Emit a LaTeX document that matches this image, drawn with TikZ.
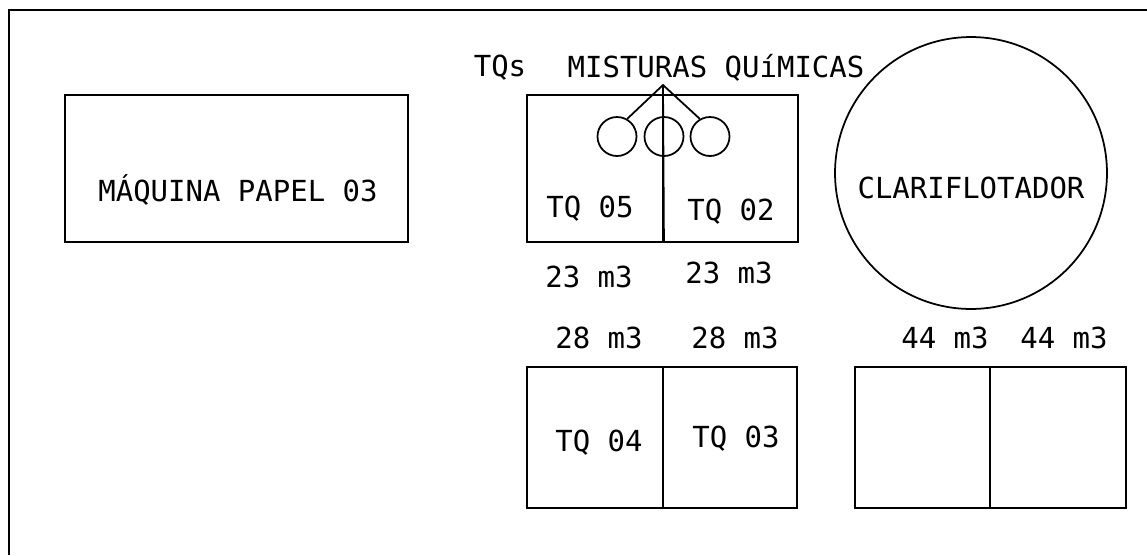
\documentclass[tikz,border=0pt]{standalone}
\usepackage{fontspec}
\setmonofont{DejaVu Sans Mono}
\usetikzlibrary{positioning}
\tikzset{
  tankbox/.style={
    rectangle, draw=black, line width=1.1pt,
    minimum width=#1, minimum height=2.94cm,
    inner sep=0pt
  },
  tankbox/.default=2.72cm,
  bigtank/.style={
    rectangle, draw=black, line width=1.1pt,
    minimum width=#1, minimum height=2.82cm,
    inner sep=0pt
  },
  bigtank/.default=2.72cm,
  mixcirc/.style={circle, draw=black, line width=1pt,
    minimum size=0.78cm, inner sep=0pt},
  clarcirc/.style={circle, draw=black, line width=1pt,
    minimum size=5.44cm, inner sep=0pt},
  plotlbl/.style={font=\fontsize{16.5}{18}\selectfont\ttfamily, inner sep=0pt},
  feedline/.style={line width=1pt, color=black},
}

\begin{document}
\begin{tikzpicture}[x=0.02cm, y=-0.02cm]
  \useasboundingbox (0,0) rectangle (1147,555);
  % frame
  \draw[line width=1.1pt] (9,555) -- (9,10) -- (1147,10);
  % paper machine
  \node[tankbox=6.86cm] at (236.5,168.5) (mp03) {};
  \node[plotlbl] at (238,190) (mp03lbl) {MÁQUINA PAPEL 03};
  % chemical mixing tanks
  \node[plotlbl] at (500,68) (tqslbl) {TQs};
  \node[plotlbl] at (716,68) (mixlbl) {MISTURAS QUíMICAS};
  \node[tankbox] at (595,168.5) (tq05) {};
  \node[tankbox=2.70cm] at (730.5,168.5) (tq02) {};
  \coordinate (apex) at (663,85);
  \node[mixcirc] at (617,136.5) (mx1) {};
  \node[mixcirc] at (664,136.5) (mx2) {};
  \node[mixcirc] at (710,136.5) (mx3) {};
  \draw[feedline] (mx1.60) -- (apex) -- (mx3.120);
  \draw[feedline] (apex) -- (tq05.south east);
  \node[plotlbl] at (590,209) (tq05lbl) {TQ 05};
  \node[plotlbl] at (731,212) (tq02lbl) {TQ 02};
  \node[plotlbl] at (589,277) (v05) {23 m3};
  \node[plotlbl] at (729,273) (v02) {23 m3};
  % lower tanks
  \node[plotlbl] at (599,338) (v04) {28 m3};
  \node[plotlbl] at (735,338) (v03) {28 m3};
  \node[bigtank] at (595,437.5) (tq04) {};
  \node[bigtank=2.68cm] at (730,437.5) (tq03) {};
  \node[plotlbl] at (599,443) (tq04lbl) {TQ 04};
  \node[plotlbl] at (736,439) (tq03lbl) {TQ 03};
  % clarifier and its tanks
  \node[clarcirc] at (971,173) (clar) {};
  \node[plotlbl] at (971,188) (clarlbl) {CLARIFLOTADOR};
  \node[plotlbl] at (945,338) (v44a) {44 m3};
  \node[plotlbl] at (1064,338) (v44b) {44 m3};
  \node[bigtank=2.70cm] at (922.5,437.5) (tqa) {};
  \node[bigtank=2.72cm] at (1058,437.5) (tqb) {};
\end{tikzpicture}
\end{document}
